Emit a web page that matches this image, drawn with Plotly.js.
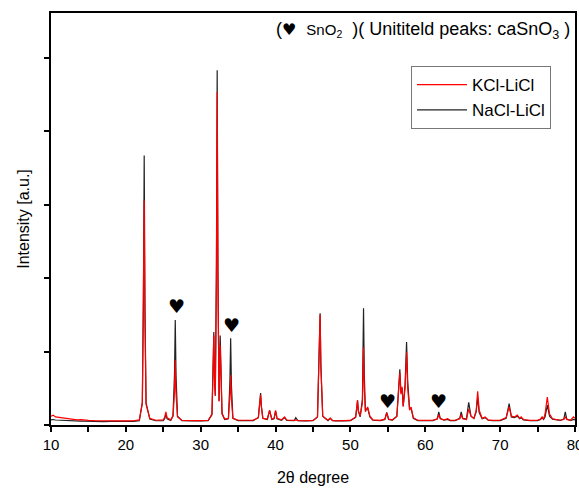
<!DOCTYPE html>
<html>
<head>
<meta charset="utf-8">
<script src="https://cdn.plot.ly/plotly-3.0.1.min.js"></script>
<style>html,body{margin:0;padding:0;background:#fff;}#chart{width:579px;height:488px;}</style>
</head>
<body>
<div id="chart"></div>
<script>
// 2θ sampling positions (degrees)
const twoTheta = [10,10.3,10.6,11,11.5,12,12.5,13,13.5,14,14.5,15,16,17,18,19,20,21,21.8,22.2,22.35,22.45,22.55,22.7,23.2,24,25,25.2,25.35,25.5,26,26.3,26.5,26.6,26.7,26.9,27.5,28,29,30,31,31.5,31.65,31.75,31.85,31.95,32.1,32.2,32.3,32.45,32.6,32.7,32.85,33.2,33.7,33.9,34.0,34.1,34.3,35,36,37,37.7,37.9,38.0,38.1,38.3,38.9,39.2,39.5,39.8,40.0,40.2,40.8,41.2,41.5,42,42.5,42.7,43,44,45,45.6,45.85,45.95,46.05,46.3,47,47.3,47.6,48,49,50,50.7,50.95,51.05,51.3,51.6,51.75,51.85,52.0,52.3,52.6,53,54,54.6,54.85,55.1,55.6,56.2,56.45,56.6,56.75,56.9,57.05,57.3,57.5,57.65,57.9,58.1,58.4,59,60,61,61.6,61.8,62.0,62.5,63,63.3,64,64.6,64.8,65.0,65.5,65.8,66.1,66.5,66.8,67.0,67.2,67.6,68.0,68.4,69,70,70.8,71.2,71.5,71.9,72.3,72.6,72.8,73.1,74,75,75.4,75.6,75.8,76.0,76.3,76.6,77,78,78.5,78.7,78.9,79.4,79.8,80];

// KCl-LiCl intensities (a.u.)
const kclLicl = [120,135,110,105,95,90,80,78,70,72,65,62,58,55,57,52,55,58,70,300,1500,3060,1400,280,90,65,70,110,180,100,70,120,450,885,420,110,62,60,58,60,65,150,700,1220,600,400,2000,4530,2000,320,1090,500,150,80,90,400,680,350,90,65,62,65,100,300,410,250,90,80,200,80,90,200,90,70,110,68,60,62,70,60,58,62,110,900,1500,800,120,65,95,62,58,60,62,110,340,200,120,300,1060,500,180,245,120,70,62,80,165,80,70,120,500,710,420,520,250,500,990,500,200,245,100,65,62,65,80,140,85,70,85,65,65,85,140,85,75,220,120,90,200,460,200,90,110,70,62,65,100,245,120,110,135,90,110,75,62,65,80,110,80,150,380,150,85,65,75,110,75,65,110,90];

// NaCl-LiCl intensities (a.u.)
const naclLicl = [70,75,68,65,62,60,58,55,55,52,52,50,48,47,48,46,47,50,60,300,1700,3670,1650,300,80,58,60,90,150,85,62,130,700,1430,680,120,58,55,55,56,60,140,700,1265,600,400,2200,4830,2100,330,1220,550,160,75,85,600,1180,550,90,60,58,60,100,320,435,260,90,75,200,75,85,190,85,65,100,62,58,60,100,58,55,58,110,900,1520,820,120,60,90,60,55,56,58,105,330,190,110,350,1590,700,200,230,110,65,60,75,170,75,68,115,520,760,440,500,260,550,1130,600,220,230,90,60,58,60,85,180,90,65,75,60,60,90,180,90,80,310,120,90,180,380,170,85,100,65,60,60,90,290,110,100,120,85,100,70,58,60,75,100,75,110,270,120,80,62,80,180,80,60,75,70];

const seriesNames = ["KCl-LiCl", "NaCl-LiCl"];
const xTickVals = [10,15,20,25,30,35,40,45,50,55,60,65,70,75,80];
const xTickText = ["10","","20","","30","","40","","50","","60","","70","","80"];

// SnO2 marker positions (2θ, intensity)
const heartX = [26.7, 34.05, 54.9, 61.8];
const heartY = [1620, 1360, 330, 330];

const FONT = "Liberation Sans, Arial, Helvetica, sans-serif";

const traces = [
  {x: twoTheta, y: naclLicl, type: "scatter", mode: "lines", name: seriesNames[1],
   line: {color: "#222222", width: 1.2}, legendrank: 2},
  {x: twoTheta, y: kclLicl, type: "scatter", mode: "lines", name: seriesNames[0],
   line: {color: "#ff0000", width: 1.2}, legendrank: 1}
];

const annotations = heartX.map((hx, i) => ({
  x: hx, y: heartY[i], xref: "x", yref: "y", text: "\u2665", showarrow: false,
  font: {family: "DejaVu Sans", size: 19, color: "#000"}
}));
annotations.push({
  xref: "paper", yref: "paper", x: 0.995, y: 0.958, xanchor: "right", yanchor: "middle",
  showarrow: false,
  text: "(<span style='font-family:DejaVu Sans;font-size:16px'>\u2665</span>  <span style='font-size:15px'>SnO<sub>2</sub></span>  )( Unititeld peaks: caSnO<sub>3</sub> )",
  font: {family: FONT, size: 18, color: "#000"}
});

const layout = {
  width: 579, height: 488,
  margin: {l: 51, r: 4, t: 13, b: 63},
  paper_bgcolor: "#fff", plot_bgcolor: "#fff",
  showlegend: true,
  legend: {x: 0.687, y: 0.871, xanchor: "left", yanchor: "top",
    bordercolor: "#777", borderwidth: 1, bgcolor: "#fff", itemwidth: 50,
    font: {family: FONT, size: 17, color: "#000"}, tracegroupgap: 0},
  xaxis: {
    range: [10, 80], tickmode: "array", tickvals: xTickVals, ticktext: xTickText,
    ticks: "outside", ticklen: 5, tickwidth: 2, tickcolor: "#000",
    ticklabeloverflow: "allow",
    showline: true, linewidth: 2, linecolor: "#000", mirror: true,
    showgrid: false, zeroline: false,
    tickfont: {family: FONT, size: 15, color: "#000"},
    title: {text: "2\u03b8 degree", font: {family: FONT, size: 16, color: "#000"}, standoff: 20}
  },
  yaxis: {
    range: [0, 5610], tick0: 0, dtick: 1000,
    ticks: "outside", ticklen: 5, tickwidth: 2, tickcolor: "#000",
    showticklabels: false,
    showline: true, linewidth: 2, linecolor: "#000", mirror: true,
    showgrid: false, zeroline: false,
    title: {text: "Intensity [a.u.]", font: {family: FONT, size: 16, color: "#000"}, standoff: 10}
  },
  annotations: annotations
};

Plotly.newPlot("chart", traces, layout, {displayModeBar: false, staticPlot: true});
</script>
</body>
</html>
